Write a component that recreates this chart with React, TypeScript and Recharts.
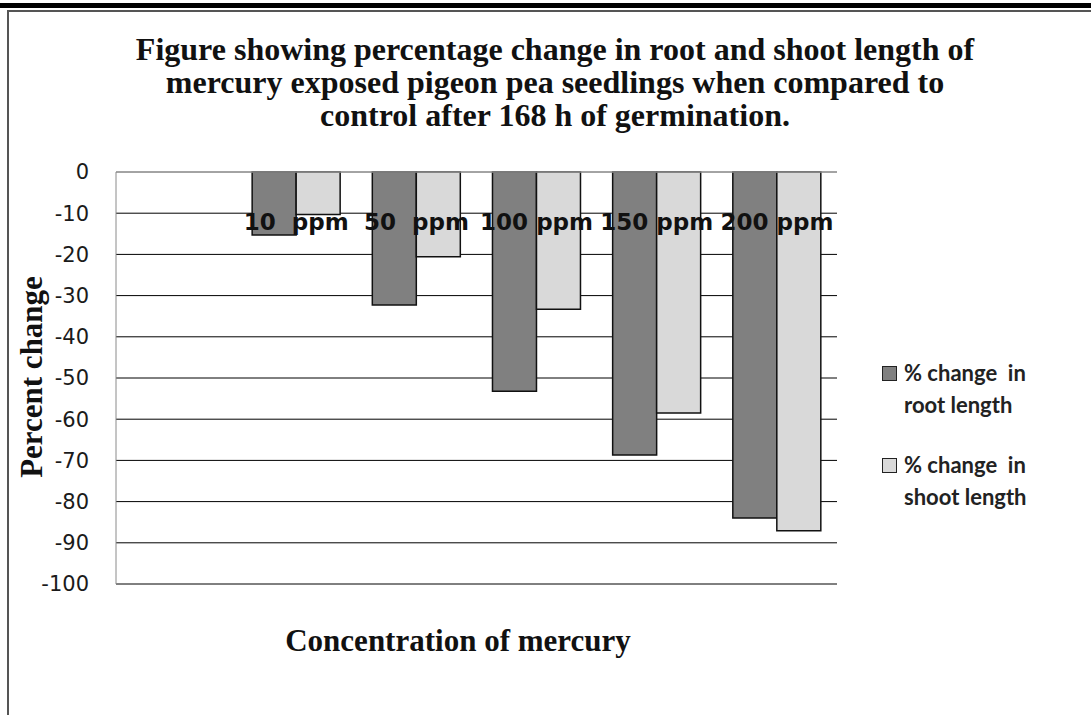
import { BarChart, Bar, XAxis, YAxis, CartesianGrid } from 'recharts';

const categories = ['', '10  ppm', '50  ppm', '100 ppm', '150 ppm', '200 ppm'];
const rootChange = [null, -15.3, -32.3, -53.2, -68.7, -84.0];
const shootChange = [null, -10.3, -20.6, -33.3, -58.5, -87.1];
const yTicks = [0, -10, -20, -30, -40, -50, -60, -70, -80, -90, -100];

const titleLines = [
  'Figure showing percentage change in root and shoot length of',
  'mercury exposed pigeon pea seedlings when compared to',
  'control after 168 h of germination.',
];

const seriesInfo = [
  { key: 'root', lines: ['% change  in', 'root length'], color: '#808080' },
  { key: 'shoot', lines: ['% change  in', 'shoot length'], color: '#d9d9d9' },
];

const data = categories.map((c, i) => ({
  name: c,
  root: rootChange[i],
  shoot: shootChange[i],
}));

const CategoryTick = (props: any) => {
  const { x, y, payload } = props;
  return (
    <text
      x={x}
      y={y + 66}
      textAnchor="middle"
      fill="#111"
      style={{ fontFamily: 'DejaVu Sans', fontWeight: 'bold', fontSize: 23, whiteSpace: 'pre' }}
    >
      {payload.value}
    </text>
  );
};

export default function App() {
  return (
    <div style={{ position: 'absolute', left: 0, top: 0, width: 1091, height: 715, background: '#fff', overflow: 'hidden' }}>
      {/* page frame */}
      <div style={{ position: 'absolute', left: 0, top: 3, width: 1091, height: 5, background: '#000' }} />
      <div style={{ position: 'absolute', left: 7, top: 10, width: 1084, height: 2, background: '#555' }} />
      <div style={{ position: 'absolute', left: 7, top: 10, width: 2, height: 705, background: '#555' }} />

      <svg width={1091} height={160} style={{ position: 'absolute', left: 0, top: 0 }}>
        {titleLines.map((t, i) => (
          <text
            key={i}
            x={555}
            y={60 + i * 33}
            textAnchor="middle"
            fill="#111"
            style={{ fontFamily: 'Liberation Serif', fontWeight: 'bold', fontSize: 32 }}
          >
            {t}
          </text>
        ))}
      </svg>

      <div style={{ position: 'absolute', left: 0, top: 0 }}>
        <BarChart
          width={1091}
          height={715}
          data={data}
          margin={{ top: 142, right: 254, bottom: 131, left: 56 }}
          barCategoryGap="13.3%"
          barGap={0}
        >
          <CartesianGrid vertical={false} stroke="#000" strokeOpacity={1} />
          <XAxis
            dataKey="name"
            orientation="top"
            height={30}
            tickLine={false}
            axisLine={{ stroke: '#c8c8c8' }}
            tick={<CategoryTick />}
            interval={0}
          />
          <YAxis
            domain={[-100, 0]}
            ticks={yTicks}
            width={60}
            tickLine={false}
            axisLine={{ stroke: '#8a8a8a' }}
            tickMargin={21}
            tick={{ fill: '#1a1a1a', fontFamily: 'DejaVu Sans', fontSize: 21 }}
          />
          <YAxis
            yAxisId="right"
            orientation="right"
            domain={[-100, 0]}
            width={0}
            tick={false}
            tickLine={false}
            axisLine={{ stroke: '#333' }}
          />
          <Bar dataKey="root" fill="#808080" stroke="#111" strokeWidth={1.5} isAnimationActive={false} />
          <Bar dataKey="shoot" fill="#d9d9d9" stroke="#111" strokeWidth={1.5} isAnimationActive={false} />
        </BarChart>
      </div>

      {/* y axis title */}
      <svg width={70} height={400} style={{ position: 'absolute', left: 0, top: 180 }}>
        <text
          x={0}
          y={0}
          transform="translate(42, 197) rotate(-90)"
          textAnchor="middle"
          fill="#111"
          style={{ fontFamily: 'Liberation Serif', fontWeight: 'bold', fontSize: 31 }}
        >
          Percent change
        </text>
      </svg>

      {/* legend */}
      <div
        style={{
          position: 'absolute',
          left: 882,
          top: 357,
          fontFamily: 'Lato',
          fontWeight: 'bold',
          fontSize: 22,
          color: '#222',
          lineHeight: '32px',
        }}
      >
        {seriesInfo.map((s) => (
          <div key={s.key} style={{ display: 'flex', alignItems: 'flex-start', marginBottom: 28 }}>
            <span
              style={{
                width: 13,
                height: 13,
                marginTop: 9,
                marginRight: 7,
                background: s.color,
                border: '1px solid #222',
                flexShrink: 0,
              }}
            />
            <span>
              {s.lines.map((l) => (
                <div key={l} style={{ whiteSpace: 'pre' }}>
                  {l}
                </div>
              ))}
            </span>
          </div>
        ))}
      </div>

      <svg width={1091} height={60} style={{ position: 'absolute', left: 0, top: 615 }}>
        <text
          x={458}
          y={36}
          textAnchor="middle"
          fill="#111"
          style={{ fontFamily: 'Liberation Serif', fontWeight: 'bold', fontSize: 31 }}
        >
          Concentration of mercury
        </text>
      </svg>
    </div>
  );
}
